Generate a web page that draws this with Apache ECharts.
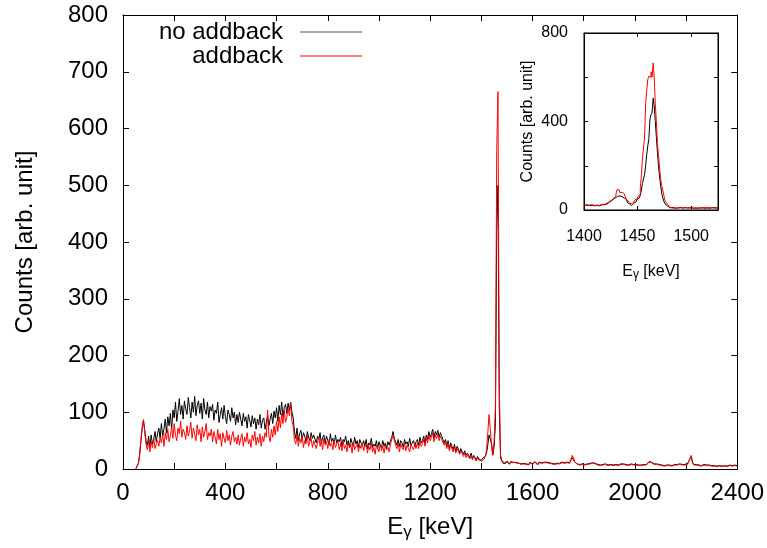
<!DOCTYPE html>
<html>
<head>
<meta charset="utf-8">
<script src="https://cdn.jsdelivr.net/npm/echarts@6/dist/echarts.min.js"></script>
<style>
html,body{margin:0;padding:0;background:#fff;}
#chart{width:767px;height:548px;}
</style>
</head>
<body>
<div id="chart"></div>
<script>
// ---------- DATA ----------
// Main spectrum: 5 keV bins starting at 50 keV
const mainStart = 50;
const mainStep = 5;
const noAddback = [
  0,3,10,25,50,72,86,68,50,42,58,38,60,44,52,66,48,62,72,54,
  80,58,70,88,64,92,76,98,70,104,90,118,84,102,124,96,112,88,120,106,
  96,126,108,90,118,100,128,94,112,120,98,116,88,124,104,96,118,90,110,102,
  114,86,104,98,118,82,96,108,88,112,92,80,104,96,84,108,90,100,78,96,
  82,100,88,76,98,84,92,72,96,86,74,94,80,90,70,88,78,96,72,86,
  90,70,82,94,76,88,98,80,102,90,108,84,112,96,118,92,108,114,98,116,
  104,118,100,90,66,54,72,50,62,68,52,64,58,48,66,56,50,64,54,60,
  62,46,58,52,64,44,56,60,46,58,50,42,62,48,54,44,60,46,52,48,
  56,40,52,48,58,42,50,38,54,46,40,56,44,50,38,52,46,42,50,40,
  52,36,46,42,54,38,44,40,50,36,48,42,38,50,40,46,36,48,42,50,
  56,66,54,48,42,52,40,50,46,38,52,44,48,40,54,42,46,50,40,48,
  52,42,56,46,50,58,44,60,52,66,56,62,70,54,66,60,68,56,64,58,
  60,46,52,40,50,36,46,40,34,44,30,40,36,28,36,30,26,32,24,28,
  26,20,28,18,24,20,16,22,18,21,15,19,17,22,27,42,60,62,45,25,
  40,80,420,500,110,20,14,10,12,10,14,11,9,13,10,12,9,11,13,10,
  11,9,12,10,13,9,11,8,12,10,9,11,13,10,8,12,10,11,9,12,
  10,12,9,11,8,10,12,9,11,10,13,10,9,12,10,11,9,12,10,11,
  14,20,18,12,10,9,11,8,10,9,11,8,10,9,8,10,9,11,8,10,
  9,8,10,7,9,8,10,9,8,7,9,8,10,7,9,8,9,7,8,9,
  8,9,7,8,10,7,8,9,7,8,6,8,9,7,8,7,9,8,7,8,
  10,13,15,12,10,9,8,9,7,8,9,7,8,6,8,7,9,7,8,6,
  7,8,6,8,7,9,7,8,6,8,7,9,10,18,22,12,8,7,8,6,
  7,8,6,7,8,6,7,5,7,8,6,7,6,8,5,7,6,7,5,6,
  6,7,5,6,7,5,6,5,7,5,6
];
const addback = [
  0,3,10,25,50,72,87,64,44,34,50,30,48,38,54,36,44,50,40,56,
  46,60,40,64,52,70,48,58,74,54,80,60,50,72,62,84,56,70,64,52,
  76,58,68,82,54,72,62,50,78,60,70,48,74,56,66,80,52,64,58,70,
  48,66,56,44,70,52,62,40,64,54,46,68,50,60,42,58,66,48,56,44,
  60,42,54,62,40,56,48,64,44,52,38,60,50,66,42,56,46,62,40,58,
  48,64,56,104,58,48,70,56,76,60,84,66,92,72,98,80,104,82,92,106,
  94,116,84,76,50,44,60,40,54,46,58,38,50,44,60,40,48,54,38,50,
  52,36,46,56,40,50,34,54,42,48,36,52,40,46,34,50,38,44,48,34,
  46,32,50,36,42,30,46,38,44,28,48,34,40,44,30,42,36,46,32,40,
  44,28,40,34,46,30,38,26,42,36,30,44,32,40,28,42,34,38,30,44,
  46,60,50,42,36,46,30,44,38,34,46,32,42,36,30,44,38,34,44,36,
  46,36,48,40,44,52,40,56,46,60,50,56,64,48,60,54,62,50,58,52,
  54,42,48,36,46,32,42,36,30,40,28,36,32,26,32,28,22,28,20,24,
  22,18,24,16,22,18,14,20,16,18,14,16,17,22,32,62,96,70,38,24,
  50,110,560,665,150,25,15,12,11,9,13,10,8,12,9,11,10,12,9,11,
  10,8,11,9,12,8,10,7,11,9,8,10,12,9,7,11,9,10,8,11,
  9,11,8,10,7,9,11,8,10,9,12,9,8,11,9,10,8,11,9,10,
  16,24,20,13,10,8,10,7,9,8,10,7,9,8,7,9,8,10,7,9,
  8,7,9,6,8,7,9,8,7,6,8,7,9,6,8,7,8,6,7,8,
  7,8,6,7,9,6,7,8,6,7,5,7,8,6,7,6,8,7,6,7,
  9,12,14,11,9,8,7,8,6,7,8,6,7,5,7,6,8,6,7,5,
  6,7,5,7,6,8,6,7,5,7,6,8,9,18,24,11,7,6,7,5,
  6,7,5,6,7,5,6,4,6,7,5,6,5,7,4,6,5,6,4,5,
  5,6,4,5,6,4,5,4,6,4,5
];
// Inset: 1 keV bins starting at 1400 keV
const insetStart = 1400;
const insetStep = 1;
const insetNoAddback = [
  20,18,22,19,21,20,17,22,20,19,21,18,20,22,19,21,23,20,22,24,
  24,26,30,34,38,42,46,48,52,56,60,62,60,64,58,60,56,54,52,48,
  42,34,28,24,20,22,25,30,36,42,48,54,60,66,90,120,140,160,200,250,
  290,320,410,430,440,505,470,400,330,260,200,150,110,75,55,40,28,20,15,12,
  10,9,11,8,10,9,12,8,10,9,11,10,8,9,11,10,9,8,10,9,
  11,9,8,10,9,12,8,10,9,11,8,10,9,8,11,9,10,8,9,10,
  9,11,8,10,9,10
];
const insetAddback = [
  22,20,24,21,23,22,19,24,22,21,23,20,22,24,21,23,25,22,24,26,
  28,30,33,36,40,44,48,52,56,60,66,90,94,92,78,80,76,74,72,60,
  48,40,34,30,27,30,36,40,46,50,56,62,70,100,154,230,280,330,480,540,
  590,605,600,625,600,665,600,480,400,300,250,190,140,110,90,65,45,34,25,18,
  14,11,9,10,8,12,9,11,10,8,10,9,11,8,10,9,10,8,11,9,
  10,8,11,9,10,8,9,11,8,10,9,8,10,9,11,8,10,9,11,8,
  10,9,11,8,10,9
];
const mainXTicks = [0, 400, 800, 1200, 1600, 2000, 2400];
const insetXTicks = [1400, 1450, 1500];
const insetYTicks = [0, 400, 800];

// ---------- CHART ----------
const FONT = 'Liberation Sans, Arial, Helvetica, sans-serif';
function pairs(start, step, arr) { return arr.map((v, i) => [start + i * step, v]); }

const chart = echarts.init(document.getElementById('chart'), null, {renderer: 'canvas'});
const black = '#000000', red = '#ff0000';
const tick = (len) => ({show: true, inside: true, length: len, lineStyle: {color: black, width: 1}});
const line = {show: true, onZero: false, lineStyle: {color: black, width: 1}};

const legendBase = {
  orient: 'vertical', align: 'right', right: 405, bottom: 'auto', left: 'auto',
  icon: 'rect', itemWidth: 62, itemHeight: 1.2, padding: 0,
  textStyle: {fontSize: 24, color: black, fontFamily: FONT, padding: [0, 12, 0, 0]}
};

const option = {
  animation: false,
  backgroundColor: '#ffffff',
  textStyle: {fontFamily: FONT},
  grid: [
    {left: 123, top: 15, width: 618, height: 454, containLabel: false},
    {left: 584, top: 33, width: 134, height: 177, containLabel: false, show: true,
     backgroundColor: '#ffffff', borderColor: black, borderWidth: 1, z: 5}
  ],
  legend: [
    Object.assign({}, legendBase, {data: ['no addback'], top: 20, itemStyle: {color: '#555555', borderWidth: 0}}),
    Object.assign({}, legendBase, {data: ['addback'], top: 44, itemStyle: {color: red, borderWidth: 0}})
  ],
  xAxis: [
    {type: 'value', gridIndex: 0, min: 0, max: 2400, interval: 200, position: 'bottom',
     axisLine: line, axisTick: tick(6), splitLine: {show: false},
     axisLabel: {color: black, fontSize: 24, fontFamily: FONT, margin: 12,
       formatter: v => mainXTicks.indexOf(v) >= 0 ? String(v) : ''},
     name: '{n|E}{s|γ}{n| [keV]}', nameLocation: 'middle', nameGap: 44,
     nameTextStyle: {color: black, rich: {
       n: {fontSize: 24, fontFamily: FONT, color: black},
       s: {fontSize: 17, fontFamily: FONT, color: black, padding: [11, 0, 0, 0]}}}},
    {type: 'value', gridIndex: 0, min: 0, max: 2400, interval: 200, position: 'top',
     axisLine: line, axisTick: tick(6), axisLabel: {show: false}, splitLine: {show: false}},
    {type: 'value', gridIndex: 1, min: 1400, max: 1525, interval: 50, position: 'bottom',
     axisLine: line, axisTick: tick(4), splitLine: {show: false}, z: 6,
     axisLabel: {color: black, fontSize: 16, fontFamily: FONT, margin: 19,
       formatter: v => insetXTicks.indexOf(v) >= 0 ? String(v) : ''},
     name: '{n|E}{s|γ}{n| [keV]}', nameLocation: 'middle', nameGap: 52,
     nameTextStyle: {color: black, rich: {
       n: {fontSize: 16, fontFamily: FONT, color: black},
       s: {fontSize: 12, fontFamily: FONT, color: black, padding: [7, 0, 0, 0]}}}},
    {type: 'value', gridIndex: 1, min: 1400, max: 1525, interval: 50, position: 'top', z: 6,
     axisLine: line, axisTick: tick(4), axisLabel: {show: false}, splitLine: {show: false}}
  ],
  yAxis: [
    {type: 'value', gridIndex: 0, min: 0, max: 800, interval: 100, position: 'left',
     axisLine: line, axisTick: tick(6), splitLine: {show: false},
     axisLabel: {color: black, fontSize: 24, fontFamily: FONT, margin: 15},
     name: 'Counts [arb. unit]', nameLocation: 'middle', nameGap: 86, nameRotate: 90,
     nameTextStyle: {color: black, fontSize: 24, fontFamily: FONT}},
    {type: 'value', gridIndex: 0, min: 0, max: 800, interval: 100, position: 'right',
     axisLine: line, axisTick: tick(6), axisLabel: {show: false}, splitLine: {show: false}},
    {type: 'value', gridIndex: 1, min: 0, max: 800, interval: 200, position: 'left', z: 6,
     axisLine: line, axisTick: tick(4), splitLine: {show: false},
     axisLabel: {color: black, fontSize: 16, fontFamily: FONT, margin: 16,
       formatter: v => insetYTicks.indexOf(v) >= 0 ? String(v) : ''},
     name: 'Counts [arb. unit]', nameLocation: 'middle', nameGap: 48, nameRotate: 90,
     nameTextStyle: {color: black, fontSize: 16, fontFamily: FONT}},
    {type: 'value', gridIndex: 1, min: 0, max: 800, interval: 200, position: 'right', z: 6,
     axisLine: line, axisTick: tick(4), axisLabel: {show: false}, splitLine: {show: false}}
  ],
  series: [
    {name: 'no addback', type: 'line', xAxisIndex: 0, yAxisIndex: 0, showSymbol: false, symbol: 'none',
     data: pairs(mainStart, mainStep, noAddback), lineStyle: {color: black, width: 1}, itemStyle: {color: black}, z: 2},
    {name: 'addback', type: 'line', xAxisIndex: 0, yAxisIndex: 0, showSymbol: false, symbol: 'none',
     data: pairs(mainStart, mainStep, addback), lineStyle: {color: red, width: 1}, itemStyle: {color: red}, z: 3},
    {name: 'inset no addback', type: 'line', xAxisIndex: 2, yAxisIndex: 2, showSymbol: false, symbol: 'none', step: 'middle',
     data: pairs(insetStart, insetStep, insetNoAddback), lineStyle: {color: black, width: 1}, itemStyle: {color: black}, z: 7},
    {name: 'inset addback', type: 'line', xAxisIndex: 2, yAxisIndex: 2, showSymbol: false, symbol: 'none', step: 'middle',
     data: pairs(insetStart, insetStep, insetAddback), lineStyle: {color: red, width: 1}, itemStyle: {color: red}, z: 8}
  ]
};
chart.setOption(option);
</script>
</body>
</html>
